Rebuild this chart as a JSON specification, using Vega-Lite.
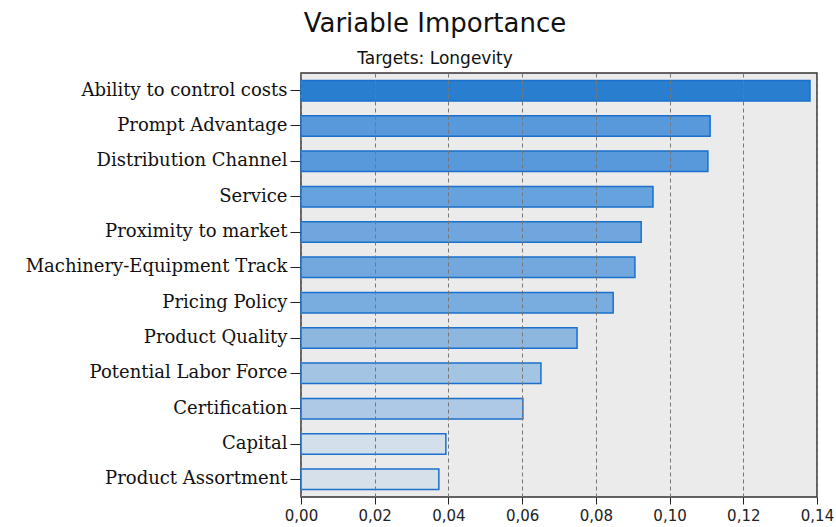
{
  "$schema": "https://vega.github.io/schema/vega-lite/v6.json",
  "width": 516,
  "height": 424,
  "padding": {"left": 25, "top": 11, "right": 5, "bottom": 5},
  "background": "white",
  "title": {
    "text": "Variable Importance",
    "subtitle": "Targets: Longevity",
    "anchor": "middle",
    "frame": "group",
    "dx": -124,
    "font": "DejaVu Sans",
    "fontSize": 26,
    "fontWeight": "normal",
    "color": "#111111",
    "subtitleFont": "DejaVu Sans",
    "subtitleFontSize": 17,
    "subtitleColor": "#111111",
    "subtitlePadding": 14,
    "offset": 6
  },
  "data": {
    "values": [
      {"variable": "Ability to control costs", "importance": 0.1381, "shade": "c01"},
      {"variable": "Prompt Advantage", "importance": 0.1110, "shade": "c02"},
      {"variable": "Distribution Channel", "importance": 0.1104, "shade": "c03"},
      {"variable": "Service", "importance": 0.0955, "shade": "c04"},
      {"variable": "Proximity to market", "importance": 0.0923, "shade": "c05"},
      {"variable": "Machinery-Equipment Track", "importance": 0.0906, "shade": "c06"},
      {"variable": "Pricing Policy", "importance": 0.0847, "shade": "c07"},
      {"variable": "Product Quality", "importance": 0.0749, "shade": "c08"},
      {"variable": "Potential Labor Force", "importance": 0.0651, "shade": "c09"},
      {"variable": "Certification", "importance": 0.0602, "shade": "c10"},
      {"variable": "Capital", "importance": 0.0393, "shade": "c11"},
      {"variable": "Product Assortment", "importance": 0.0374, "shade": "c12"}
    ]
  },
  "mark": {"type": "bar", "stroke": "#1a70cc", "strokeWidth": 1.5, "fillOpacity": 0.92},
  "encoding": {
    "y": {
      "field": "variable",
      "type": "nominal",
      "sort": null,
      "scale": {"paddingInner": 0.42, "paddingOuter": 0.21},
      "axis": {
        "title": null,
        "labelFont": "DejaVu Serif",
        "labelFontSize": 18,
        "labelColor": "#111111",
        "labelLimit": 500,
        "labelPadding": 3,
        "tickSize": 11,
        "tickColor": "#222222",
        "domain": false,
        "grid": false
      }
    },
    "x": {
      "field": "importance",
      "type": "quantitative",
      "scale": {"domain": [0, 0.14], "nice": false},
      "axis": {
        "title": null,
        "values": [0, 0.02, 0.04, 0.06, 0.08, 0.1, 0.12, 0.14],
        "labelExpr": "replace(format(datum.value, '.2f'), '.', ',')",
        "labelFlush": false,
        "labelOverlap": false,
        "labelFont": "DejaVu Sans",
        "labelFontSize": 15,
        "labelColor": "#222222",
        "labelPadding": 4,
        "tickSize": 7,
        "tickColor": "#222222",
        "domain": false,
        "grid": true,
        "gridColor": "#777777",
        "gridDash": [4, 3],
        "gridWidth": 1,
        "zindex": 1
      }
    },
    "color": {
      "field": "shade",
      "type": "nominal",
      "legend": null,
      "scale": {
        "domain": ["c01", "c02", "c03", "c04", "c05", "c06", "c07", "c08", "c09", "c10", "c11", "c12"],
        "range": ["#1874cd", "#4a91d8", "#4a91d8", "#5a9bdc", "#65a0dc", "#67a2dc", "#6fa7dd", "#85b2de", "#9cc0e2", "#a8c6e4", "#d0dde9", "#d3dee9"]
      }
    }
  },
  "config": {
    "view": {"fill": "#ebebeb", "stroke": "#333333", "strokeWidth": 1.5}
  }
}
